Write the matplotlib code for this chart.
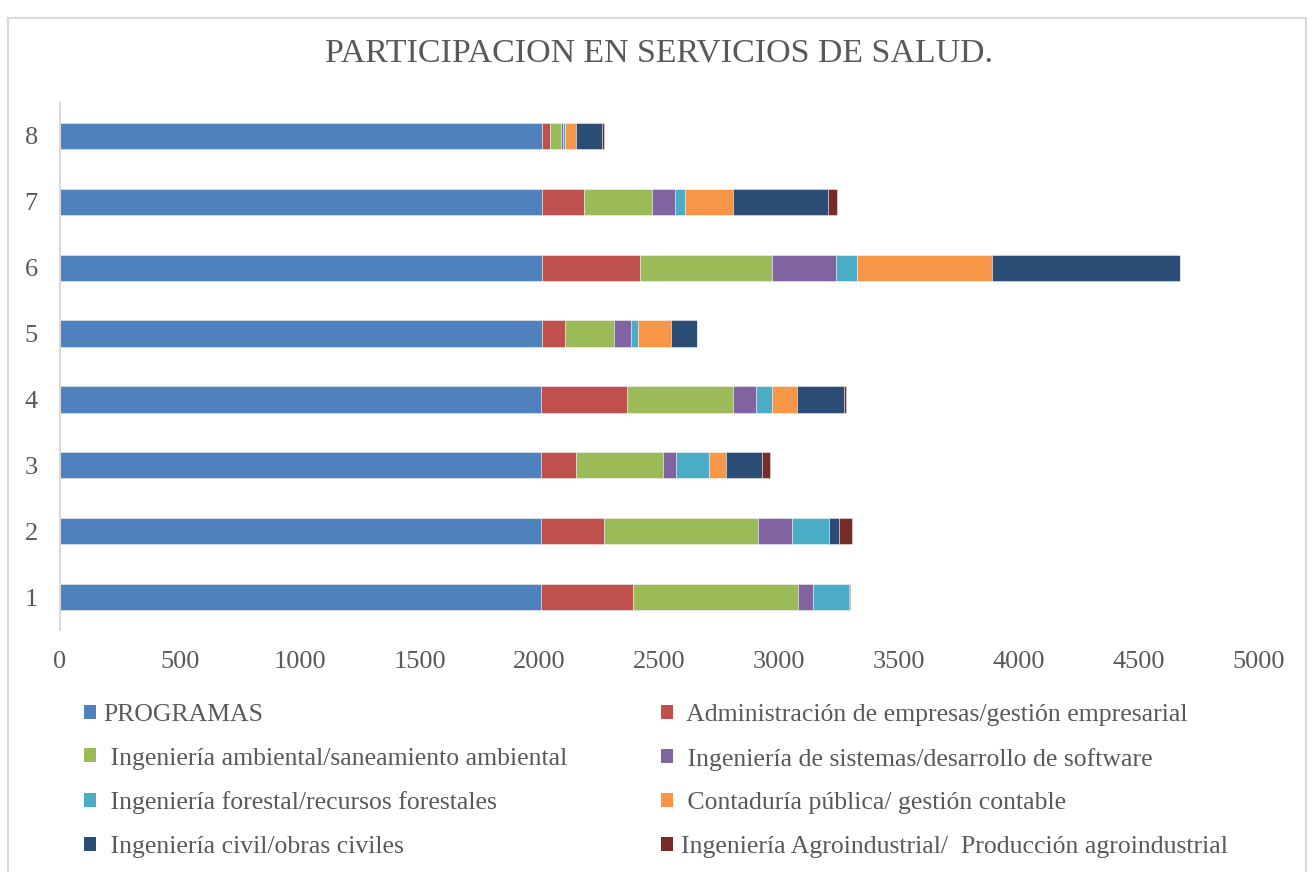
import numpy as np
import matplotlib.pyplot as plt
from matplotlib.patches import Rectangle, Patch

# categories (bottom to top)
categorias = ['1', '2', '3', '4', '5', '6', '7', '8']

# series values
programas = [2004, 2007, 2007, 2007, 2008, 2008, 2010, 2010]
administracion = [384, 262, 145, 357, 99, 412, 175, 35]
ambiental = [691, 642, 361, 441, 203, 550, 282, 46]
sistemas = [62, 143, 57, 97, 72, 268, 98, 7]
forestal = [149, 152, 138, 68, 29, 84, 43, 8]
contaduria = [0, 0, 69, 103, 138, 564, 199, 44]
civil = [2, 44, 152, 198, 107, 783, 397, 111]
agro = [2, 51, 31, 7, 0, 0, 36, 9]

series = [
    ('PROGRAMAS', programas, '#4F81BD'),
    (' Administración de empresas/gestión empresarial', administracion, '#C0504D'),
    (' Ingeniería ambiental/saneamiento ambiental', ambiental, '#9BBB59'),
    (' Ingeniería de sistemas/desarrollo de software', sistemas, '#8064A2'),
    (' Ingeniería forestal/recursos forestales', forestal, '#4BACC6'),
    (' Contaduría pública/ gestión contable', contaduria, '#F79646'),
    (' Ingeniería civil/obras civiles', civil, '#2C4D75'),
    ('Ingeniería Agroindustrial/  Producción agroindustrial', agro, '#772C2A'),
]

plt.rcParams['font.family'] = ['Liberation Serif', 'DejaVu Serif']
txt = '#595959'

fig = plt.figure(figsize=(13.14, 8.72), dpi=100)
ax = fig.add_axes([60 / 1314, 1 - 630 / 872, 1199 / 1314, 527 / 872])

y = np.arange(1, len(categorias) + 1)
left = np.zeros(len(categorias))
for name, vals, col in series:
    vals = np.array(vals, dtype=float)
    ax.barh(y, vals, left=left, height=0.4, color=col,
            edgecolor=(1, 1, 1, 0.5), linewidth=0.6, label=name)
    left += vals

ax.set_xlim(0, 5000)
ax.set_ylim(0.5, 8.5)
ax.set_xticks(np.arange(0, 5001, 500))
ax.set_yticks(y)
ax.set_yticklabels(categorias)
ax.tick_params(length=0, labelsize=19, labelcolor=txt)
ax.tick_params(axis='x', pad=15)
ax.tick_params(axis='y', pad=16)
for s in ['top', 'right', 'bottom']:
    ax.spines[s].set_visible(False)
ax.spines['left'].set_color('#d9d9d9')
ax.spines['left'].set_linewidth(1.5)

fig.text(659 / 1314, 1 - 53 / 872, 'PARTICIPACION EN SERVICIOS DE SALUD.',
         ha='center', va='center', fontsize=24.4, color=txt)

# chart border
fig.patches.append(Rectangle((8 / 1314, -0.01), 1298 / 1314, 1 - 18 / 872 + 0.01,
                             transform=fig.transFigure, fill=False,
                             edgecolor='#d9d9d9', linewidth=1.5))

# legend: two columns, row-wise order
handles = [Patch(facecolor=c) for _, _, c in series]
labels = [n for n, _, _ in series]
kw = dict(frameon=False, fontsize=18.5, labelcolor=txt, handlelength=0.46,
          handleheight=0.46, handletextpad=0.3, labelspacing=0.84,
          borderaxespad=0, borderpad=0)
leg1 = fig.legend(handles[0::2], labels[0::2], loc='upper left',
                  bbox_to_anchor=(84 / 1314, 1 - 704 / 872), **kw)
leg2 = fig.legend(handles[1::2], labels[1::2], loc='upper left',
                  bbox_to_anchor=(661 / 1314, 1 - 704 / 872), **kw)

fig.savefig('out.png', dpi=100)
